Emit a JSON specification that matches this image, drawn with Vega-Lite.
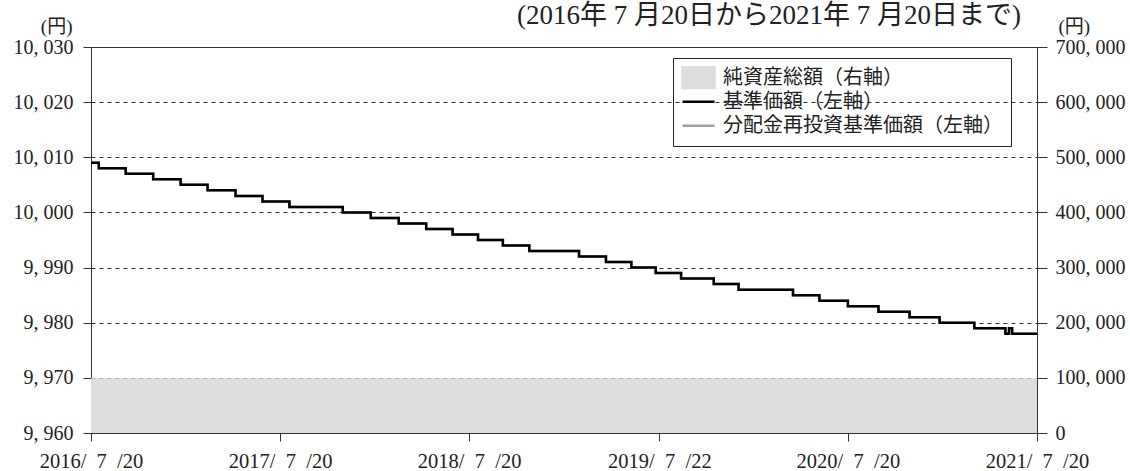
{
  "$schema": "https://vega.github.io/schema/vega-lite/v6.json",
  "width": 946,
  "height": 386,
  "autosize": {"type": "none"},
  "padding": {"left": 91, "top": 47, "right": 93, "bottom": 38},
  "background": "white",
  "title": {
    "text": "(2016年 7 月20日から2021年 7 月20日まで)",
    "anchor": "end",
    "frame": "group",
    "font": "Liberation Serif, Noto Sans CJK JP",
    "fontSize": 27,
    "fontWeight": "normal",
    "color": "#222",
    "dx": -16,
    "dy": 13,
    "offset": 0
  },
  "data": {
    "values": [
      {"date": "2016-07-20", "nav": 10009, "assets": 99400},
      {"date": "2016-08-04", "nav": 10008, "assets": 99400},
      {"date": "2016-09-25", "nav": 10007, "assets": 99400},
      {"date": "2016-11-17", "nav": 10006, "assets": 99400},
      {"date": "2017-01-09", "nav": 10005, "assets": 99400},
      {"date": "2017-03-02", "nav": 10004, "assets": 99400},
      {"date": "2017-04-25", "nav": 10003, "assets": 99400},
      {"date": "2017-06-16", "nav": 10002, "assets": 99400},
      {"date": "2017-08-07", "nav": 10001, "assets": 99400},
      {"date": "2017-11-18", "nav": 10000, "assets": 99400},
      {"date": "2018-01-11", "nav": 9999, "assets": 99400},
      {"date": "2018-03-06", "nav": 9998, "assets": 99400},
      {"date": "2018-04-28", "nav": 9997, "assets": 99400},
      {"date": "2018-06-18", "nav": 9996, "assets": 99400},
      {"date": "2018-08-06", "nav": 9995, "assets": 99400},
      {"date": "2018-09-23", "nav": 9994, "assets": 99400},
      {"date": "2018-11-13", "nav": 9993, "assets": 99400},
      {"date": "2019-02-17", "nav": 9992, "assets": 99400},
      {"date": "2019-04-10", "nav": 9991, "assets": 99400},
      {"date": "2019-05-29", "nav": 9990, "assets": 99400},
      {"date": "2019-07-15", "nav": 9989, "assets": 99400},
      {"date": "2019-09-02", "nav": 9988, "assets": 99400},
      {"date": "2019-11-04", "nav": 9987, "assets": 99400},
      {"date": "2019-12-22", "nav": 9986, "assets": 99400},
      {"date": "2020-04-05", "nav": 9985, "assets": 99400},
      {"date": "2020-05-26", "nav": 9984, "assets": 99400},
      {"date": "2020-07-20", "nav": 9983, "assets": 99400},
      {"date": "2020-09-17", "nav": 9982, "assets": 99400},
      {"date": "2020-11-16", "nav": 9981, "assets": 99400},
      {"date": "2021-01-13", "nav": 9980, "assets": 99400},
      {"date": "2021-03-21", "nav": 9979, "assets": 99400},
      {"date": "2021-05-20", "nav": 9978, "assets": 99400},
      {"date": "2021-05-27", "nav": 9979, "assets": 99400},
      {"date": "2021-06-02", "nav": 9978, "assets": 99400},
      {"date": "2021-07-20", "nav": 9978, "assets": 99400}
    ]
  },
  "encoding": {
    "x": {
      "field": "date",
      "type": "temporal",
      "scale": {"type": "utc", "domain": [{"year": 2016, "month": 7, "date": 20, "utc": true}, {"year": 2021, "month": 7, "date": 20, "utc": true}], "nice": false},
      "axis": {
        "title": null,
        "grid": false,
        "values": [
          {"year": 2016, "month": 7, "date": 20, "utc": true},
          {"year": 2017, "month": 7, "date": 20, "utc": true},
          {"year": 2018, "month": 7, "date": 20, "utc": true},
          {"year": 2019, "month": 7, "date": 22, "utc": true},
          {"year": 2020, "month": 7, "date": 20, "utc": true},
          {"year": 2021, "month": 7, "date": 20, "utc": true}
        ],
        "labelExpr": "utcFormat(datum.value, '%Y/\u2002%-m\u2002/%d')",
        "labelFont": "Liberation Serif",
        "labelFontSize": 20.5,
        "labelColor": "#222",
        "labelPadding": 10,
        "labelOverlap": false,
        "labelFlush": false,
        "tickSize": 8,
        "tickColor": "#333",
        "domainColor": "#333"
      }
    }
  },
  "layer": [
    {
      "mark": {"type": "area", "interpolate": "step-after", "opacity": 1},
      "encoding": {
        "y": {
          "field": "assets",
          "type": "quantitative",
          "scale": {"domain": [0, 700000], "nice": false},
          "axis": {
            "orient": "right",
            "values": [0, 100000, 200000, 300000, 400000, 500000, 600000, 700000],
            "grid": false,
            "labelExpr": "replace(format(datum.value, ','), ',', ', ')",
            "labelFont": "Liberation Serif",
            "labelFontSize": 20,
            "labelColor": "#222",
            "labelPadding": 8,
            "tickSize": 10,
            "tickColor": "#333",
            "domainColor": "#333",
            "title": "(円)",
            "titleAngle": 0,
            "titleAlign": "left",
            "titleBaseline": "middle",
            "titleX": 21,
            "titleY": -21,
            "titleFont": "Liberation Serif, Noto Sans CJK JP",
            "titleFontSize": 19,
            "titleFontWeight": "normal",
            "titleColor": "#222"
          }
        },
        "color": {
          "datum": "純資産総額（右軸）",
          "type": "nominal",
          "scale": {
            "domain": ["純資産総額（右軸）", "基準価額（左軸）", "分配金再投資基準価額（左軸）"],
            "range": ["#dcdddd", "#000000", "#a0a0a0"]
          },
          "legend": {
            "title": null,
            "orient": "none",
            "legendX": 582,
            "legendY": 11,
            "direction": "vertical",
            "strokeColor": "#222",
            "padding": 8,
            "labelFont": "Noto Sans CJK JP",
            "labelFontSize": 20,
            "labelColor": "#222",
            "labelLimit": 500,
            "labelOffset": 7,
            "rowPadding": 0,
            "clipHeight": 23.5,
            "symbolSize": 1024,
            "symbolType": "stroke",
            "symbolStrokeWidth": 2.5,
            "encoding": {
              "symbols": {
                "shape": {"condition": {"test": "datum.value === '純資産総額（右軸）'", "value": "M-1,-0.66H1V0.66H-1Z"}, "value": "stroke"},
                "fill": {"condition": {"test": "datum.value === '純資産総額（右軸）'", "value": "#dcdddd"}, "value": "transparent"},
                "stroke": {"condition": [{"test": "datum.value === '純資産総額（右軸）'", "value": "transparent"}, {"test": "datum.value === '基準価額（左軸）'", "value": "#000000"}], "value": "#a0a0a0"},
                "strokeWidth": {"value": 2.5},
                "opacity": {"value": 1}
              }
            }
          }
        }
      }
    },
    {
      "layer": [
        {
          "mark": {"type": "line", "interpolate": "step-after", "strokeWidth": 2.5},
          "encoding": {
            "y": {
              "field": "nav",
              "type": "quantitative",
              "scale": {"domain": [9960, 10030], "nice": false, "zero": false},
              "axis": {
                "orient": "left",
                "values": [9960, 9970, 9980, 9990, 10000, 10010, 10020, 10030],
                "grid": true,
                "gridDash": [4, 4],
                "gridColor": "#333",
                "gridWidth": 1,
                "labelExpr": "replace(format(datum.value, ','), ',', ', ')",
                "labelFont": "Liberation Serif",
                "labelFontSize": 20,
                "labelColor": "#222",
                "labelPadding": 10,
                "tickSize": 8,
                "tickColor": "#333",
                "domainColor": "#333",
                "title": "(円)",
                "titleAngle": 0,
                "titleAlign": "right",
                "titleBaseline": "middle",
                "titleX": -19,
                "titleY": -21,
                "titleFont": "Liberation Serif, Noto Sans CJK JP",
                "titleFontSize": 19,
                "titleFontWeight": "normal",
                "titleColor": "#222"
              }
            },
            "color": {"datum": "分配金再投資基準価額（左軸）", "type": "nominal"}
          }
        },
        {
          "mark": {"type": "line", "interpolate": "step-after", "strokeWidth": 2.5},
          "encoding": {
            "y": {"field": "nav", "type": "quantitative"},
            "color": {"datum": "基準価額（左軸）", "type": "nominal"}
          }
        }
      ]
    }
  ],
  "resolve": {"scale": {"y": "independent"}},
  "config": {
    "view": {"stroke": "#333", "strokeWidth": 1},
    "font": "Liberation Serif, Noto Sans CJK JP"
  }
}
